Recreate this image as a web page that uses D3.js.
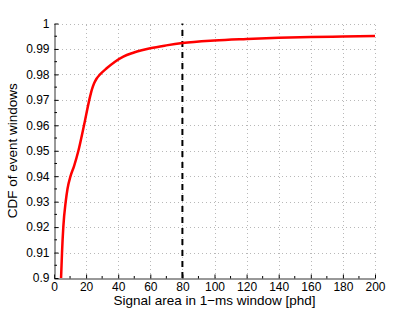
<!DOCTYPE html>
<html>
<head>
<meta charset="utf-8">
<script src="https://cdn.jsdelivr.net/npm/d3@7"></script>
<style>
  body { margin: 0; background: #fff; }
  text { font-family: "Liberation Sans", Arial, sans-serif; fill: #000; }
</style>
</head>
<body>
<script>
 // CDF curve
 const signal_area = [4.4, 4.7, 5.0, 5.8, 7.3, 8.4, 10.3, 12.5, 15.2, 18.7, 22.0, 23.5, 25.0, 26.5, 28.7,
                      32.8, 38, 43.2, 49.4, 54, 60, 70, 80, 100, 120, 140, 160, 180, 200];
 const cdf = [0.900, 0.905, 0.910, 0.920, 0.930, 0.935, 0.940, 0.944, 0.950, 0.960, 0.970, 0.9738, 0.9765, 0.9783, 0.980,
              0.9824, 0.9850, 0.9870, 0.9885, 0.9894, 0.9903, 0.9914, 0.9923, 0.9933, 0.9939, 0.9944, 0.9947, 0.9949, 0.9951];

 // cut at 80 phd
 const threshold = 80;

 // tick values
 const x_ticks = [0, 20, 40, 60, 80, 100, 120, 140, 160, 180, 200];
 const y_ticks = [0.9, 0.91, 0.92, 0.93, 0.94, 0.95, 0.96, 0.97, 0.98, 0.99, 1];

 const data = signal_area.map((d, i) => ({ x: d, y: cdf[i] }));

 // constants
 const width = 415;
 const height = 313;
 const margin = { top: 23.5, bottom: 35, left: 54, right: 40 };

 const svg = d3.select('body').append('svg')
       .attr('width', width).attr('height', height);

 const xScale = d3.scaleLinear().domain([0, 200])
       .range([margin.left, width - margin.right]);
 const yScale = d3.scaleLinear().domain([0.9, 1])
       .range([height - margin.bottom, margin.top]);

 // dotted grid
 const grid = svg.append('g').attr('class', 'grid')
       .attr('stroke', '#b8b8b8').attr('stroke-width', 1).attr('stroke-dasharray', '1,3');
 grid.selectAll('line.gx').data(x_ticks.slice(1)).enter().append('line')
     .attr('x1', (d) => Math.round(xScale(d)) + 0.5).attr('x2', (d) => Math.round(xScale(d)) + 0.5)
     .attr('y1', yScale(0.9)).attr('y2', yScale(1));
 grid.selectAll('line.gy').data(y_ticks.slice(1)).enter().append('line')
     .attr('y1', (d) => Math.round(yScale(d)) + 0.5).attr('y2', (d) => Math.round(yScale(d)) + 0.5)
     .attr('x1', xScale(0)).attr('x2', xScale(200));

 // x axis, ticks pointing inward
 const xAxis = svg.append('g')
       .attr('transform', `translate(0, ${Math.round(yScale(0.9)) + 0.5})`)
       .call(d3.axisBottom(xScale).tickValues(x_ticks).tickSize(-4).tickPadding(4).tickSizeOuter(0));
 xAxis.selectAll('.tick text').attr('font-size', 12);
 xAxis.append('g').selectAll('line').data(d3.range(10, 200, 20)).enter().append('line')
      .attr('x1', (d) => xScale(d)).attr('x2', (d) => xScale(d))
      .attr('y1', 0).attr('y2', -2.5).attr('stroke', '#000');

 // y axis
 const yAxis = svg.append('g')
       .attr('transform', `translate(${Math.round(xScale(0)) + 0.5}, 0)`)
       .call(d3.axisLeft(yScale).tickValues(y_ticks).tickSize(-4).tickPadding(5).tickSizeOuter(0)
             .tickFormat((d) => d3.format('')(+d.toFixed(2))));
 yAxis.selectAll('.tick text').attr('font-size', 12);
 yAxis.append('g').selectAll('line').data(d3.range(0.905, 1, 0.01)).enter().append('line')
      .attr('y1', (d) => yScale(d)).attr('y2', (d) => yScale(d))
      .attr('x1', 0).attr('x2', 2.5).attr('stroke', '#000');
 svg.selectAll('.domain').attr('stroke', '#333');

 // threshold line
 svg.append('line')
    .attr('x1', xScale(threshold)).attr('x2', xScale(threshold))
    .attr('y1', yScale(0.9)).attr('y2', yScale(1))
    .attr('stroke', '#000').attr('stroke-width', 2).attr('stroke-dasharray', '6,5');

 // cdf curve
 const line = d3.line().x((d) => xScale(d.x)).y((d) => yScale(d.y)).curve(d3.curveMonotoneX);
 svg.append('path').datum(data)
    .attr('d', line).attr('fill', 'none')
    .attr('stroke', '#ff0000').attr('stroke-width', 2.5);

 // labels
 svg.append('text')
    .attr('x', (xScale(0) + xScale(200)) / 2).attr('y', 305)
    .attr('text-anchor', 'middle').attr('font-size', 13.5)
    .text('Signal area in 1\u2212ms window [phd]');
 svg.append('text')
    .attr('transform', `translate(17, ${(yScale(0.9) + yScale(1)) / 2}) rotate(-90)`)
    .attr('text-anchor', 'middle').attr('font-size', 13.5)
    .text('CDF of event windows');
</script>
</body>
</html>
